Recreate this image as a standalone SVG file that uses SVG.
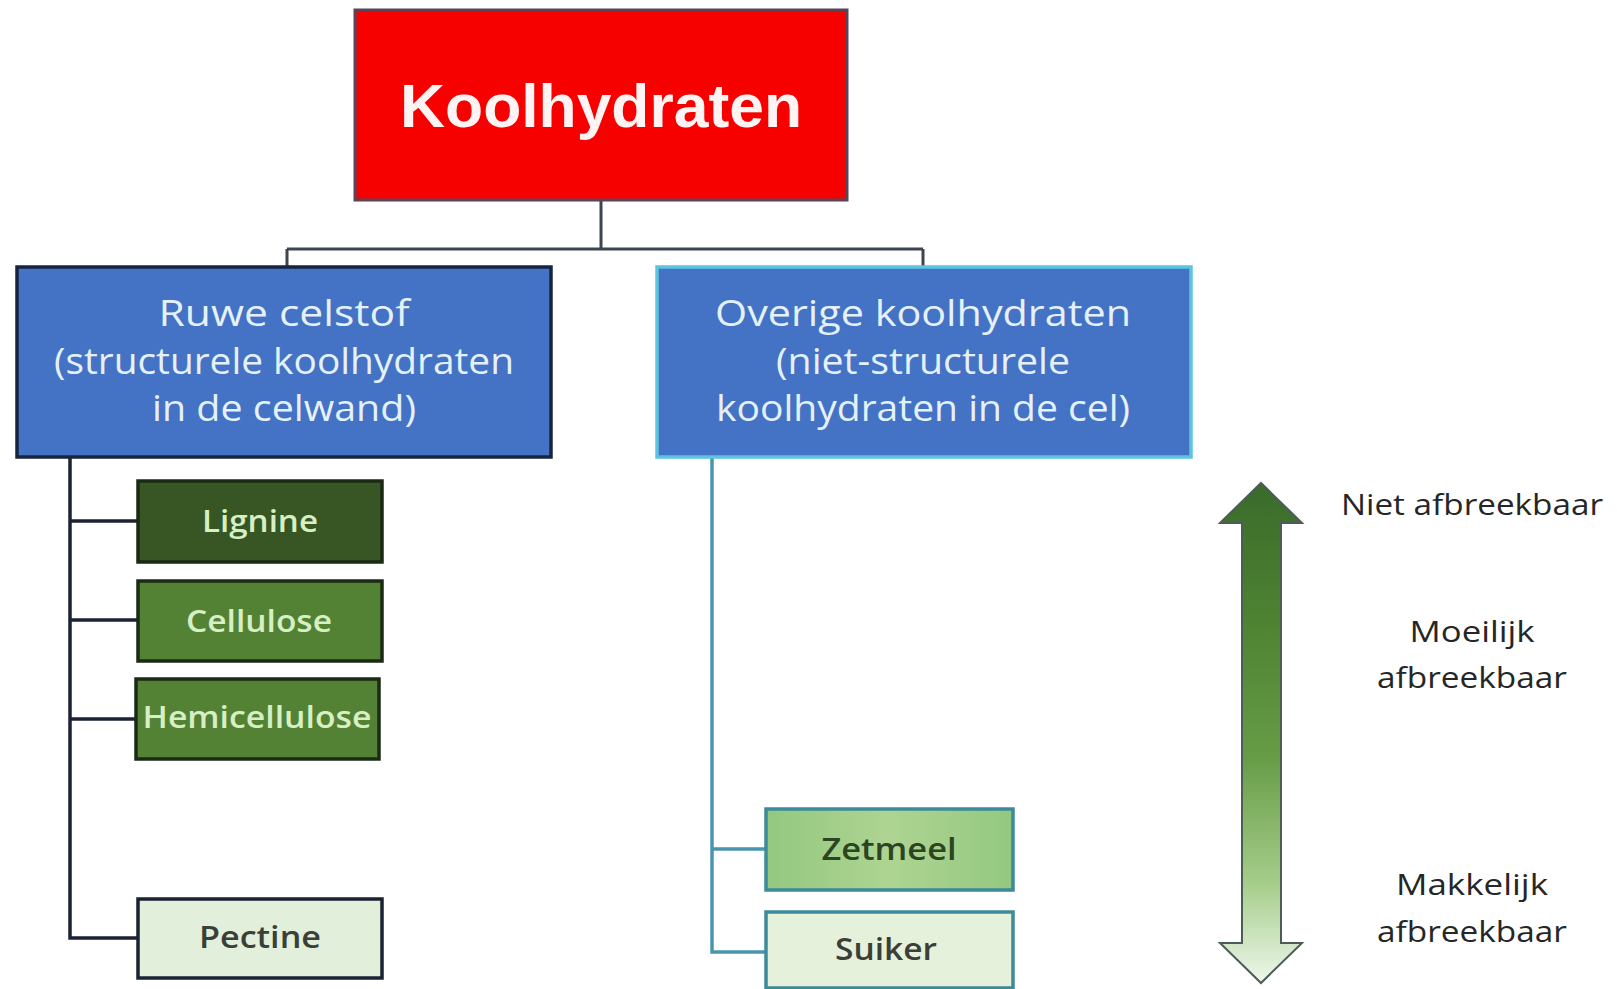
<svg xmlns="http://www.w3.org/2000/svg" width="1617" height="989" viewBox="0 0 1617 989">
  <defs>
    <style>
      .title { font-family: "Liberation Sans", Arial, sans-serif; font-weight: bold; font-size: 62px; fill: #fff4f4; text-anchor: middle; }
      .cat { font-family: "Open Sans", "Noto Sans", sans-serif; font-size: 36px; fill: #e4f1fb; text-anchor: middle; }
      .leaf { font-family: "Open Sans", "Noto Sans", sans-serif; font-weight: 600; font-size: 30px; text-anchor: middle; }
      .leaf-light { fill: #d6efc4; }
      .leaf-dark { fill: #3a3f38; }
      .side { font-family: "Open Sans", "Noto Sans", sans-serif; font-size: 30px; fill: #262626; text-anchor: middle; }
      .wire-dark { fill: none; stroke: #1b2233; stroke-width: 3.5; }
      .wire-teal { fill: none; stroke: #4a95ad; stroke-width: 3.5; }
      .wire-top { fill: none; stroke: #3c4552; stroke-width: 3; }
    </style>
    <linearGradient id="scaleFill" x1="0" y1="0" x2="0" y2="1">
      <stop offset="0" stop-color="#3b6a2b"/>
      <stop offset="0.3" stop-color="#4f8533"/>
      <stop offset="0.55" stop-color="#679c47"/>
      <stop offset="0.8" stop-color="#a5cd8a"/>
      <stop offset="1" stop-color="#eef7ec"/>
    </linearGradient>
    <linearGradient id="starchFill" x1="0" y1="0" x2="1" y2="0">
      <stop offset="0" stop-color="#93c87f"/>
      <stop offset="0.5" stop-color="#aed492"/>
      <stop offset="1" stop-color="#93c87f"/>
    </linearGradient>
  </defs>

  <rect width="1617" height="989" fill="#ffffff"/>

  <!-- connectors -->
  <g id="connectors">
    <path class="wire-top" d="M601 200 V249 M287 249 H923 M287 249 V266 M923 249 V266"/>
    <path class="wire-dark" d="M70 457 V938 H138 M70 521 H138 M70 620 H138 M70 719 H136"/>
    <path class="wire-teal" d="M712 457 V952 H766 M712 849 H766"/>
  </g>

  <!-- root -->
  <g id="node-koolhydraten">
    <rect x="355" y="10" width="492" height="190" fill="#f60000" stroke="#5a4456" stroke-width="3"/>
    <text class="title" x="601" y="127" textLength="402" lengthAdjust="spacingAndGlyphs">Koolhydraten</text>
  </g>

  <!-- structural carbohydrates -->
  <g id="node-ruwe-celstof">
    <rect x="17" y="267" width="534" height="190" fill="#4472c4" stroke="#16243f" stroke-width="3.5"/>
    <text class="cat" x="284" y="326" textLength="251" lengthAdjust="spacingAndGlyphs">Ruwe celstof</text>
    <text class="cat" x="284" y="374" textLength="460" lengthAdjust="spacingAndGlyphs">(structurele koolhydraten</text>
    <text class="cat" x="284" y="421" textLength="264" lengthAdjust="spacingAndGlyphs">in de celwand)</text>
  </g>

  <!-- non-structural carbohydrates -->
  <g id="node-overige">
    <rect x="657" y="267" width="534" height="190" fill="#4472c4" stroke="#5cc3e0" stroke-width="3.5"/>
    <text class="cat" x="923" y="326" textLength="416" lengthAdjust="spacingAndGlyphs">Overige koolhydraten</text>
    <text class="cat" x="923" y="374" textLength="294" lengthAdjust="spacingAndGlyphs">(niet-structurele</text>
    <text class="cat" x="923" y="421" textLength="414" lengthAdjust="spacingAndGlyphs">koolhydraten in de cel)</text>
  </g>

  <g id="node-lignine">
    <rect x="138" y="481" width="244" height="81" fill="#375623" stroke="#1b2a14" stroke-width="3.5"/>
    <text class="leaf leaf-light" x="260" y="532" textLength="116" lengthAdjust="spacingAndGlyphs">Lignine</text>
  </g>

  <g id="node-cellulose">
    <rect x="138" y="581" width="244" height="80" fill="#548235" stroke="#1b2a14" stroke-width="3.5"/>
    <text class="leaf leaf-light" x="259" y="632" textLength="146" lengthAdjust="spacingAndGlyphs">Cellulose</text>
  </g>

  <g id="node-hemicellulose">
    <rect x="136" y="679" width="243" height="80" fill="#548235" stroke="#1b2a14" stroke-width="3.5"/>
    <text class="leaf leaf-light" x="257" y="728" textLength="229" lengthAdjust="spacingAndGlyphs">Hemicellulose</text>
  </g>

  <g id="node-pectine">
    <rect x="138" y="899" width="244" height="79" fill="#e2efda" stroke="#1b2233" stroke-width="3.5"/>
    <text class="leaf leaf-dark" x="260" y="948" textLength="122" lengthAdjust="spacingAndGlyphs">Pectine</text>
  </g>

  <g id="node-zetmeel">
    <rect x="766" y="809" width="247" height="81" fill="url(#starchFill)" stroke="#3d8a9a" stroke-width="3.5"/>
    <text class="leaf" x="889" y="860" fill="#2b4422" textLength="135" lengthAdjust="spacingAndGlyphs">Zetmeel</text>
  </g>

  <g id="node-suiker">
    <rect x="766" y="912" width="247" height="76" fill="#e6f1dc" stroke="#3d8a9a" stroke-width="3.5"/>
    <text class="leaf leaf-dark" x="886" y="960" textLength="102" lengthAdjust="spacingAndGlyphs">Suiker</text>
  </g>

  <!-- degradability scale -->
  <g id="scale-arrow">
    <path d="M1261 483 L1302 523 L1281 523 L1281 943 L1302 943 L1261 983 L1220 943 L1242 943 L1242 523 L1220 523 Z" fill="url(#scaleFill)" stroke="#4d5c57" stroke-width="2"/>
  </g>

  <g id="scale-labels">
    <text class="side" x="1472" y="515" textLength="262" lengthAdjust="spacingAndGlyphs">Niet afbreekbaar</text>
    <text class="side" x="1472" y="642" textLength="125" lengthAdjust="spacingAndGlyphs">Moeilijk</text>
    <text class="side" x="1472" y="688" textLength="190" lengthAdjust="spacingAndGlyphs">afbreekbaar</text>
    <text class="side" x="1472" y="895" textLength="152" lengthAdjust="spacingAndGlyphs">Makkelijk</text>
    <text class="side" x="1472" y="942" textLength="190" lengthAdjust="spacingAndGlyphs">afbreekbaar</text>
  </g>
</svg>
